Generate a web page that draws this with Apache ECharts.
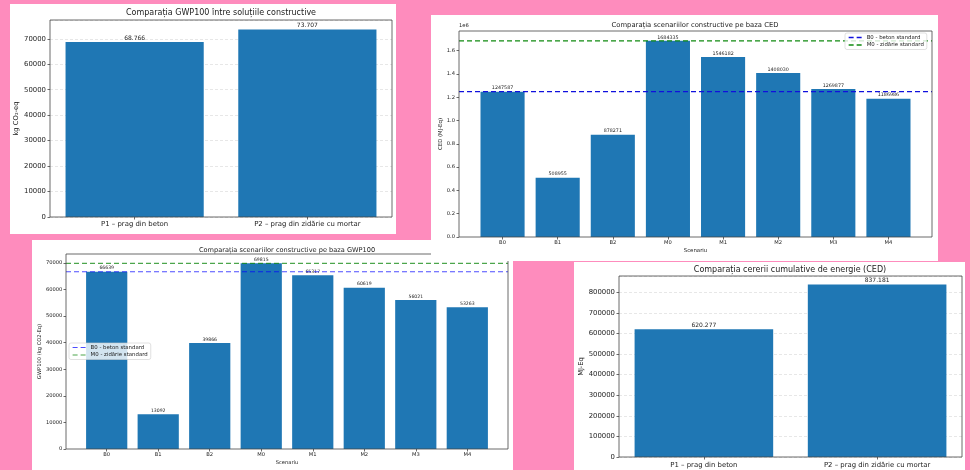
<!DOCTYPE html>
<html>
<head>
<meta charset="utf-8">
<script src="https://cdn.jsdelivr.net/npm/echarts@6/dist/echarts.min.js"></script>
<style>
html,body{margin:0;padding:0;background:#fe8cbd;}
#c{width:970px;height:470px;}
</style>
</head>
<body>
<div id="c"></div>
<script>
// ---------- DATA ----------
const pCategories = ['P1 – prag din beton', 'P2 – prag din zidărie cu mortar'];
const pGwpValues = [68766, 73707];
const pCedValues = [620277, 837181];
const scenarios = ['B0', 'B1', 'B2', 'M0', 'M1', 'M2', 'M3', 'M4'];
const scenCedValues = [1247587, 508955, 878271, 1684335, 1546182, 1408030, 1269877, 1186986];
const scenGwpValues = [66639, 13092, 39866, 69815, 65317, 60619, 56021, 53263];
const refLabels = ['B0 - beton standard', 'M0 - zidărie standard'];
const refScenarios = ['B0', 'M0'];

// ---------- STYLE ----------
const FONT = 'DejaVu Sans';
const TXT = '#222';
const SPINE = '#444';
const BAR = '#1f77b4';
const PINK = '#fe8cbd';

function fmtDot(v) { return String(v).replace(/\B(?=(\d{3})+(?!\d))/g, '.'); }
function fmtPlain(v) { return String(v); }

const panels = [
  { key: 'A', box: [10, 4, 386, 230], frame: [50, 20, 342, 197],
    title: 'Comparația GWP100 între soluțiile constructive', titleXY: [221, 13.3], titleSize: 8,
    cats: pCategories, vals: pGwpValues, yMax: 77392, interval: 10000,
    yFmt: v => String(v), yName: 'kg CO₂-eq', yNameGap: 28, xName: '', xNameGap: 0,
    tickSize: 6.9, nameSize: 6.8, barSize: 6, xMargin: 4, yMargin: 4,
    labelFmt: fmtDot, gridLines: true, zl: 0, refs: null },
  { key: 'B', box: [431, 15, 507, 246], frame: [459, 31, 473, 206],
    title: 'Comparația scenariilor constructive pe baza CED', titleXY: [695, 25.3], titleSize: 6.8,
    cats: scenarios, vals: scenCedValues, yMax: 1768552, interval: 200000,
    yFmt: v => (v / 1e6).toFixed(1), yName: 'CED (MJ-Eq)', yNameGap: 15, xName: 'Scenariu', xNameGap: 11.5,
    tickSize: 5.2, nameSize: 5.4, barSize: 4.8, xMargin: 3.2, yMargin: 4,
    labelFmt: fmtPlain, gridLines: false, zl: 1,
    refs: { colors: ['#1010dd', '#108a10'], opacity: 1, width: 1.3, legend: [845, 33] },
    offsetText: '1e6' },
  { key: 'C', box: [32, 240, 481, 240], frame: [66, 254, 442, 195],
    title: 'Comparația scenariilor constructive pe baza GWP100', titleXY: [287, 250], titleSize: 6.6,
    cats: scenarios, vals: scenGwpValues, yMax: 73306, interval: 10000,
    yFmt: v => String(v), yName: 'GWP100 (kg CO2-Eq)', yNameGap: 24, xName: 'Scenariu', xNameGap: 11,
    tickSize: 5.2, nameSize: 5.2, barSize: 4.6, xMargin: 3.6, yMargin: 3.6,
    labelFmt: fmtPlain, gridLines: false, zl: 0,
    refs: { colors: ['#0000ff', '#008000'], opacity: 0.7, width: 1.2, legend: [69, 343] } },
  { key: 'D', box: [574, 262, 391, 215], frame: [619, 276, 343, 181],
    title: 'Comparația cererii cumulative de energie (CED)', titleXY: [790, 270], titleSize: 8,
    cats: pCategories, vals: pCedValues, yMax: 879040, interval: 100000,
    yFmt: v => String(v), yName: 'MJ-Eq', yNameGap: 33, xName: '', xNameGap: 0,
    tickSize: 6.9, nameSize: 6.8, barSize: 6, xMargin: 4.5, yMargin: 4,
    labelFmt: fmtDot, gridLines: true, zl: 0, refs: null }
];

const option = {
  backgroundColor: PINK,
  animation: false,
  textStyle: { fontFamily: FONT },
  grid: [], xAxis: [], yAxis: [], series: [], legend: [],
  graphic: { elements: [] }
};

panels.forEach((p, i) => {
  const [l, t, w, h] = p.frame;
  const n = p.cats.length;
  const u = w / ((n - 0.2) * 1.1);
  const dw = n * u, dl = l + (w - dw) / 2;
  const gF = 2 * i, gD = 2 * i + 1;

  option.graphic.elements.push({
    type: 'rect', zlevel: p.zl, z: -10, silent: true,
    shape: { x: p.box[0], y: p.box[1], width: p.box[2], height: p.box[3] },
    style: { fill: '#ffffff' }
  });
  option.graphic.elements.push({
    type: 'text', zlevel: p.zl, z: 20, silent: true,
    x: p.titleXY[0], y: p.titleXY[1],
    style: { text: p.title, fill: TXT, fontSize: p.titleSize, fontFamily: FONT,
      textAlign: 'center', textVerticalAlign: 'middle', align: 'center', verticalAlign: 'middle' }
  });
  if (p.offsetText) {
    option.graphic.elements.push({
      type: 'text', zlevel: p.zl, z: 20, silent: true,
      x: l, y: p.titleXY[1] + 0.5,
      style: { text: p.offsetText, fill: TXT, fontSize: p.tickSize, fontFamily: FONT,
        textAlign: 'left', textVerticalAlign: 'middle', align: 'left', verticalAlign: 'middle' }
    });
  }

  option.grid.push({ left: l, top: t, width: w, height: h, show: true, borderColor: SPINE, borderWidth: 0.8,
    backgroundColor: 'transparent', zlevel: p.zl, z: 5, containLabel: false, outerBoundsMode: 'none' });
  option.grid.push({ left: dl, top: t, width: dw, height: h, show: false, zlevel: p.zl,
    containLabel: false, outerBoundsMode: 'none' });

  option.xAxis.push({ type: 'value', gridIndex: gF, min: 0, max: 1, show: false, zlevel: p.zl });
  option.xAxis.push({
    type: 'category', gridIndex: gD, data: p.cats, boundaryGap: true, zlevel: p.zl,
    axisLine: { show: false },
    axisTick: { show: true, alignWithLabel: true, length: 2.5, lineStyle: { color: SPINE, width: 0.8 } },
    axisLabel: { fontSize: p.tickSize, color: TXT, margin: p.xMargin, interval: 0 },
    splitLine: { show: false },
    name: p.xName, nameLocation: 'middle', nameGap: p.xNameGap,
    nameTextStyle: { fontSize: p.nameSize, color: TXT }
  });
  option.yAxis.push({
    type: 'value', gridIndex: gF, min: 0, max: p.yMax, interval: p.interval, zlevel: p.zl,
    axisLine: { show: false },
    axisTick: { show: true, length: 2.5, lineStyle: { color: SPINE, width: 0.8 } },
    axisLabel: { fontSize: p.tickSize, color: TXT, margin: p.yMargin, formatter: p.yFmt, showMaxLabel: false },
    splitLine: { show: p.gridLines, lineStyle: { color: '#d6d6d6', type: [3, 2], width: 0.6 } },
    name: p.yName, nameLocation: 'middle', nameRotate: 90, nameGap: p.yNameGap,
    nameTextStyle: { fontSize: p.nameSize, color: TXT }
  });
  option.yAxis.push({ type: 'value', gridIndex: gD, min: 0, max: p.yMax, show: false, zlevel: p.zl });

  option.series.push({
    type: 'bar', name: p.key + ' bars', xAxisIndex: gD, yAxisIndex: gD, data: p.vals,
    barWidth: '80%', itemStyle: { color: BAR }, zlevel: p.zl, z: 2,
    label: { show: true, position: 'top', distance: 1, fontSize: p.barSize, color: TXT,
      formatter: o => p.labelFmt(o.value) }
  });

  if (p.refs) {
    const legendData = [];
    refScenarios.forEach((sc, k) => {
      const v = p.vals[p.cats.indexOf(sc)];
      const ls = { color: p.refs.colors[k], width: p.refs.width, type: [5, 3], opacity: p.refs.opacity };
      option.series.push({
        type: 'line', name: refLabels[k], xAxisIndex: gF, yAxisIndex: gF,
        data: [[0, v], [1, v]], symbol: 'none', showSymbol: false, silent: true,
        zlevel: p.zl, z: 4, lineStyle: ls, itemStyle: { color: p.refs.colors[k], opacity: p.refs.opacity }
      });
      legendData.push({ name: refLabels[k], lineStyle: ls,
        itemStyle: { color: 'transparent', borderColor: 'transparent', borderWidth: 0, opacity: 0 } });
    });
    option.legend.push({
      left: p.refs.legend[0], top: p.refs.legend[1], orient: 'vertical', zlevel: p.zl, z: 10,
      data: legendData, itemWidth: 13, itemHeight: 5, itemGap: 2.5, padding: [2, 3, 2, 3],
      textStyle: { fontSize: p.tickSize + 0.2, color: TXT, fontFamily: FONT },
      borderColor: '#cccccc', borderWidth: 0.6, borderRadius: 2,
      backgroundColor: 'rgba(255,255,255,0.8)', selectedMode: false
    });
  }
});

const chart = echarts.init(document.getElementById('c'), null, { renderer: 'canvas', width: 970, height: 470 });
chart.setOption(option);
</script>
</body>
</html>
